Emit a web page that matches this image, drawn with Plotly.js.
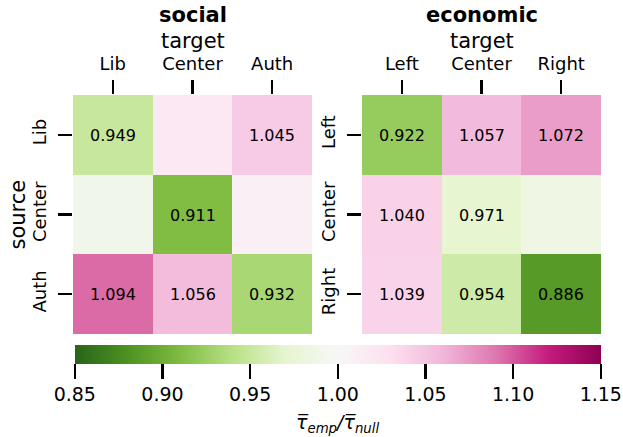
<!DOCTYPE html>
<html>
<head>
<meta charset="utf-8">
<script src="https://cdn.plot.ly/plotly-3.0.1.min.js"></script>
<style>html,body{margin:0;padding:0;background:#fff;}#chart{width:623px;height:437px;}</style>
</head>
<body>
<div id="chart"></div>
<script>
// ---- data ----
const socialLabels = ["Lib", "Center", "Auth"];
const economicLabels = ["Left", "Center", "Right"];
// rows = source, columns = target
const socialValues = [
  [0.949, 1.020, 1.045],
  [0.990, 0.911, 1.010],
  [1.094, 1.056, 0.932]
];
const socialShown = [
  [true, false, true],
  [false, true, false],
  [true, true, true]
];
const economicValues = [
  [0.922, 1.057, 1.072],
  [1.040, 0.971, 0.985],
  [1.039, 0.954, 0.886]
];
const economicShown = [
  [true, true, true],
  [true, true, false],
  [true, true, true]
];
const cbTicks = [0.85, 0.90, 0.95, 1.00, 1.05, 1.10, 1.15];

// PiYG reversed (green low, pink high)
const piyg = ["#8e0152","#c51b7d","#de77ae","#f1b6da","#fde0ef","#f7f7f7","#e6f5d0","#b8e186","#7fbc41","#4d9221","#276419"];
const colorscale = piyg.slice().reverse().map((c, i) => [i / 10, c]);

function textOf(vals, shown) {
  return vals.map((r, i) => r.map((v, j) => shown[i][j] ? v.toFixed(3) : ""));
}

const FONT = "DejaVu Sans, sans-serif";

const traces = [
  {
    type: "heatmap", x: socialLabels, y: socialLabels, z: socialValues,
    text: textOf(socialValues, socialShown), texttemplate: "%{text}",
    textfont: {family: FONT, size: 16, color: "#000"},
    coloraxis: "coloraxis", xaxis: "x", yaxis: "y", hoverinfo: "z"
  },
  {
    type: "heatmap", x: economicLabels, y: economicLabels, z: economicValues,
    text: textOf(economicValues, economicShown), texttemplate: "%{text}",
    textfont: {family: FONT, size: 16, color: "#000"},
    coloraxis: "coloraxis", xaxis: "x2", yaxis: "y2", hoverinfo: "z"
  }
];

const H = 437, W = 623;
const yTop = 1 - 95 / H, yBot = 1 - 334 / H;

function xax(domain, anchor) {
  return {
    domain: domain, anchor: anchor, side: "top", type: "category",
    ticks: "outside", ticklen: 14, tickwidth: 2.5, tickcolor: "#000",
    ticklabelstandoff: 3,
    tickfont: {family: FONT, size: 18, color: "#000"},
    showgrid: false, zeroline: false, showline: false,
    title: {text: ""},
    fixedrange: true
  };
}
function yax(domain, anchor) {
  return {
    domain: domain, anchor: anchor, type: "category", autorange: "reversed",
    ticks: "outside", ticklen: 14, tickwidth: 2.5, tickcolor: "#000",
    tickangle: -90, ticklabelstandoff: 5,
    tickfont: {family: FONT, size: 18, color: "#000"},
    showgrid: false, zeroline: false, showline: false,
    title: {text: ""},
    fixedrange: true
  };
}

function ann(text, xpx, ypx, size, angle) {
  return {text: text, x: xpx / W, y: 1 - ypx / H, xref: "paper", yref: "paper",
          xanchor: "center", yanchor: "middle", showarrow: false, textangle: angle || 0,
          font: {family: FONT, size: size, color: "#000"}};
}

const layout = {
  width: W, height: H,
  margin: {l: 0, r: 0, t: 0, b: 0},
  paper_bgcolor: "#fff", plot_bgcolor: "#fff",
  font: {family: FONT, color: "#000"},
  xaxis: xax([73 / W, 312 / W], "y"),
  yaxis: yax([yBot, yTop], "x"),
  xaxis2: xax([362 / W, 601 / W], "y2"),
  yaxis2: yax([yBot, yTop], "x2"),
  coloraxis: {
    cmin: 0.85, cmax: 1.15, colorscale: colorscale,
    colorbar: {
      orientation: "h", x: 337.8 / W, xanchor: "center", lenmode: "pixels", len: 526,
      y: 1 - 345 / H, yanchor: "top", thickness: 19, ypad: 0, xpad: 0,
      outlinewidth: 0,
      tickmode: "array", tickvals: cbTicks, ticktext: cbTicks.map(v => v.toFixed(2)),
      ticks: "outside", ticklen: 15, tickwidth: 2.5, tickcolor: "#000",
      tickfont: {family: FONT, size: 19, color: "#000"},
      title: {text: ""}
    }
  },
  annotations: [
    ann("<b>social</b>", (73 + 312) / 2, 15, 21),
    ann("<b>economic</b>", (362 + 601) / 2, 15, 21),
    ann("target", (73 + 312) / 2, 41, 21),
    ann("target", (362 + 601) / 2, 41, 21),
    ann("source", 17, 214.5, 21, -90),
    ann("<i>τ̅<sub>emp</sub>/τ̅<sub>null</sub></i>", 337, 423, 19)
  ]
};

Plotly.newPlot("chart", traces, layout, {displayModeBar: false, staticPlot: true});
</script>
</body>
</html>
